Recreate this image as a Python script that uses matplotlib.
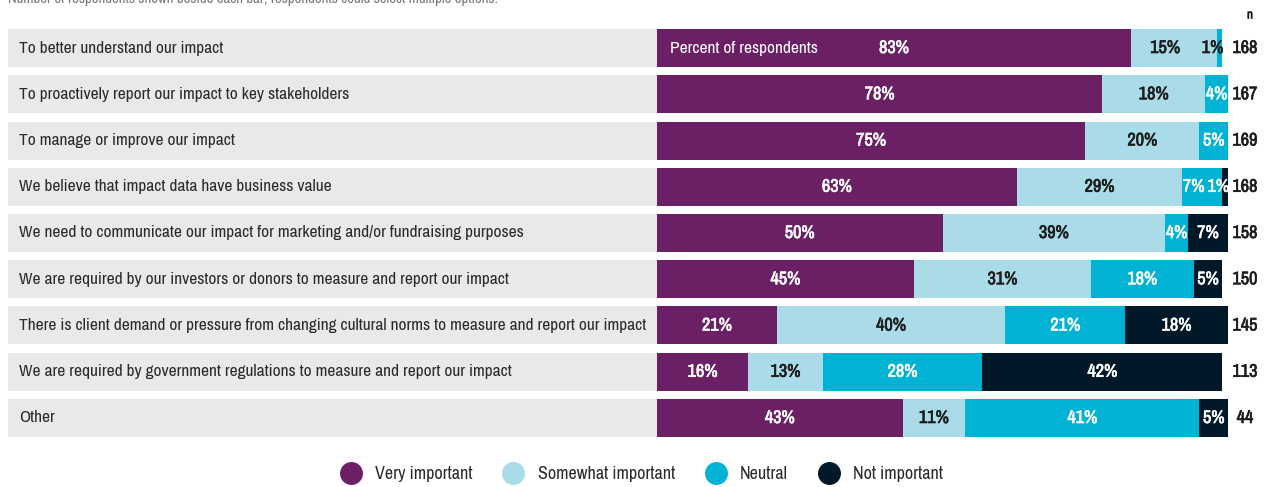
import matplotlib
matplotlib.use("Agg")
import matplotlib.pyplot as plt
import matplotlib.patheffects as pe
from matplotlib.lines import Line2D
from matplotlib import font_manager

names = sorted({f.name for f in font_manager.fontManager.ttflist})
narrow = [n for n in names if "Narrow" in n or "Condensed" in n]
fam = narrow[0] if narrow else "Roboto"
plt.rcParams["font.family"] = [fam, "DejaVu Sans"]

reasons = [
    "To better understand our impact",
    "To proactively report our impact to key stakeholders",
    "To manage or improve our impact",
    "We believe that impact data have business value",
    "We need to communicate our impact for marketing and/or fundraising purposes",
    "We are required by our investors or donors to measure and report our impact",
    "There is client demand or pressure from changing cultural norms to measure and report our impact",
    "We are required by government regulations to measure and report our impact",
    "Other",
]
very = [83, 78, 75, 63, 50, 45, 21, 16, 43]
somewhat = [15, 18, 20, 29, 39, 31, 40, 13, 11]
neutral = [1, 4, 5, 7, 4, 18, 21, 28, 41]
not_imp = [0, 0, 0, 1, 7, 5, 18, 42, 5]
n_resp = [168, 167, 169, 168, 158, 150, 145, 113, 44]

series = [("Very important", very, "#6b1f64", "white"),
          ("Somewhat important", somewhat, "#a9dbe8", "#1c1c1c"),
          ("Neutral", neutral, "#00b3d4", "white"),
          ("Not important", not_imp, "#001827", "white")]

W, H = 1271, 487
fig = plt.figure(figsize=(W / 100, H / 100), dpi=100)
ax = fig.add_axes([0, 0, 1, 1])
ax.axis("off")

# size the text so the longest label fits the grey band like the original
renderer = fig.canvas.get_renderer()
probe = fig.text(0, 0, max(reasons, key=len), fontsize=10)
wpx = probe.get_window_extent(renderer).width
probe.remove()
fs = min(13.5, 10 * 628 / wpx)
k = fs / 13.5

x0 = 657          # pixel where bars start
ppu = 5.71        # pixels per percent
pitch = 46.25     # row pitch in pixels
top0 = 48         # first row centre
ax.set_xlim(-x0 / ppu, (W - x0) / ppu)
ax.set_ylim((H - top0) / pitch, -top0 / pitch)

rows = list(range(len(reasons)))
bh = 38 / pitch
band_left = -(x0 - 8) / ppu
ax.barh(rows, [-band_left] * len(rows), left=band_left, height=bh, color="#e8e9eb")

for i, r in enumerate(reasons):
    ax.text(-(x0 - 19) / ppu, i, r, va="center", ha="left", fontsize=fs, color="#2b2b2b")


def bold(c):
    return [pe.withStroke(linewidth=0.45, foreground=c)]


pfs = 13.5 * k * 1.05
stack = [very, somewhat, neutral, not_imp]
left = [0] * len(rows)
for si, (name, vals, col, tcol) in enumerate(series):
    ax.barh(rows, vals, left=left, height=bh, color=col)
    for i, v in enumerate(vals):
        if v <= 0:
            continue
        if v < 3:
            c = "#1c1c1c" if col == "#00b3d4" else tcol
            ax.text(left[i] + v + 0.2, i, f"{v}%", va="center", ha="right",
                    fontsize=pfs, color=c, path_effects=bold(c))
        else:
            xc = left[i] + v / 2
            if si < 3 and 0 < stack[si + 1][i] < 3:
                xc -= 1.5
            ax.text(xc, i, f"{v}%", va="center", ha="center",
                    fontsize=pfs, color=tcol, path_effects=bold(tcol))
    left = [l + v for l, v in zip(left, vals)]

ax.text(13 / ppu, 0, "Percent of respondents", va="center", ha="left", fontsize=fs, color="white")

for i, n in enumerate(n_resp):
    ax.text((1245 - x0) / ppu, i, str(n), va="center", ha="center", fontsize=pfs,
            color="#1c1c1c", path_effects=bold("#1c1c1c"))
ax.text((1250 - x0) / ppu, -33 / pitch, "n", va="center", ha="center", fontsize=10 * k,
        color="#1c1c1c", path_effects=bold("#1c1c1c"))

fig.text(8 / W, 1 + 1 / H, "Number of respondents shown beside each bar; respondents could select multiple options.",
         ha="left", va="center", fontsize=11.5 * k, color="#777777")

handles = [Line2D([], [], marker="o", linestyle="", markersize=15.5, markerfacecolor=c,
                  markeredgecolor=c) for _, _, c, _ in series]
fig.legend(handles, [s[0] for s in series], loc="center", bbox_to_anchor=(638 / W, 1 - 474 / H),
           ncol=4, frameon=False, fontsize=fs * 1.04, handletextpad=0.35, columnspacing=1.25,
           labelcolor="#2b2b2b")

fig.savefig("out.png", dpi=100)
